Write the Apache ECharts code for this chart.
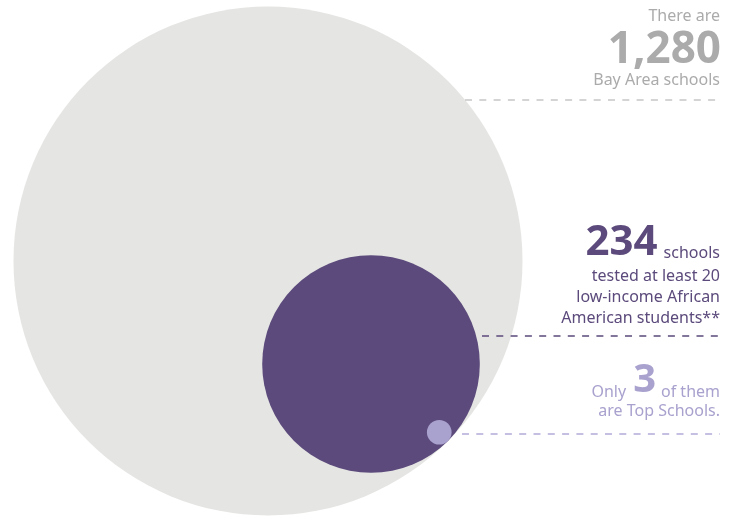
<!DOCTYPE html>
<html><head><meta charset="utf-8">
<script src="https://cdn.jsdelivr.net/npm/echarts@6/dist/echarts.min.js"></script>
<style>html,body{margin:0;padding:0;background:#fff}#c{width:735px;height:517px}</style>
</head><body><div id="c"></div>
<script>
// ---- data ----
const categories = ['Bay Area schools', 'Tested at least 20 low-income African American students', 'Top Schools'];
const schoolCounts = [1280, 234, 3];
const countLabels = ['1,280', '234', '3'];

// ---- styles / layout ----
const fills = ['#e5e5e3', '#5b4a7b', '#a9a1ce'];
const textColors = ['#ababab', '#5b4a7b', '#a9a1ce'];
const lineColors = ['#c6c6c6', '#5b4a7b', '#b3abd8'];
const FONT = '"Noto Sans", Lato, sans-serif';
const W = 735, H = 517, CX = 268, CY = 261, R0PX = 254.5, RIGHT = 720;

// circle radius (data units) proportional to sqrt(count) -> area proportional to count
const radii = schoolCounts.map(v => Math.sqrt(v));
const k = R0PX / radii[0]; // px per data unit
// each circle is internally tangent to its parent along the 45deg down-right direction
const centers = [[0, 0]];
for (let i = 1; i < radii.length; i++) {
  const d = (radii[i - 1] - radii[i]) * Math.SQRT1_2;
  const p = centers[i - 1];
  centers.push([p[0] + d, p[1] - d]);
}
const circleData = radii.map((r, i) => ({ name: categories[i], value: [centers[i][0], centers[i][1], r, schoolCounts[i]] }));

const cvs = document.createElement('canvas').getContext('2d');
function tw(text, size, weight) { cvs.font = (weight || 'normal') + ' ' + size + 'px ' + FONT; return cvs.measureText(text).width; }
function txt(text, x, y, size, color, weight) {
  return { type: 'text', x: x, y: y, silent: true, z: 10,
    style: { text: text, fill: color, fontSize: size, fontFamily: FONT, fontWeight: weight || 'normal',
      align: 'right', textAlign: 'right', verticalAlign: 'middle', textVerticalAlign: 'middle' } };
}
function dash(x1, y, color) {
  return { type: 'line', silent: true, z: 5, shape: { x1: x1, y1: y, x2: RIGHT, y2: y },
    style: { stroke: color, lineWidth: 1.3, lineDash: [7, 7.3] } };
}

const BODY = 16;
const g = [];
// block 1
g.push(txt('There are', RIGHT, 16, BODY, textColors[0]));
g.push(txt(countLabels[0], RIGHT + 1, 50, 44, textColors[0], 'bold'));
g.push(txt(categories[0], RIGHT, 80, BODY, textColors[0]));
g.push(dash(465, 100, lineColors[0]));
// block 2
g.push(txt('schools', RIGHT, 253, BODY, textColors[1]));
g.push(txt(countLabels[1], RIGHT - tw('schools', BODY) - 6, 243, 42, textColors[1], 'bold'));
g.push(txt('tested at least 20', RIGHT, 276, BODY, textColors[1]));
g.push(txt('low-income African', RIGHT, 297, BODY, textColors[1]));
g.push(txt('American students**', RIGHT, 318, BODY, textColors[1]));
g.push(dash(482, 336, lineColors[1]));
// block 3
const w3a = tw('of them', BODY);
g.push(txt('of them', RIGHT, 392, BODY, textColors[2]));
const w3 = tw(countLabels[2], 40, 'bold');
g.push(txt(countLabels[2], RIGHT - w3a - 5, 381, 40, textColors[2], 'bold'));
g.push(txt('Only', RIGHT - w3a - 5 - w3 - 7, 392, BODY, textColors[2]));
g.push(txt('are Top Schools.', RIGHT, 411, BODY, textColors[2]));
g.push(dash(462, 434, lineColors[2]));

const chart = echarts.init(document.getElementById('c'), null, { renderer: 'canvas' });
chart.setOption({
  animation: false,
  backgroundColor: '#fff',
  grid: { left: 0, right: 0, top: 0, bottom: 0 },
  xAxis: { type: 'value', show: false, min: -CX / k, max: (W - CX) / k },
  yAxis: { type: 'value', show: false, min: -(H - CY) / k, max: CY / k },
  series: [{
    type: 'custom',
    clip: false,
    encode: { x: 0, y: 1 },
    data: circleData,
    renderItem: function (params, api) {
      const c = api.coord([api.value(0), api.value(1)]);
      const r = api.size([api.value(2), 0])[0];
      return { type: 'circle', shape: { cx: c[0], cy: c[1], r: r }, style: { fill: fills[params.dataIndex] } };
    }
  }],
  graphic: { elements: g }
});
</script></body></html>
